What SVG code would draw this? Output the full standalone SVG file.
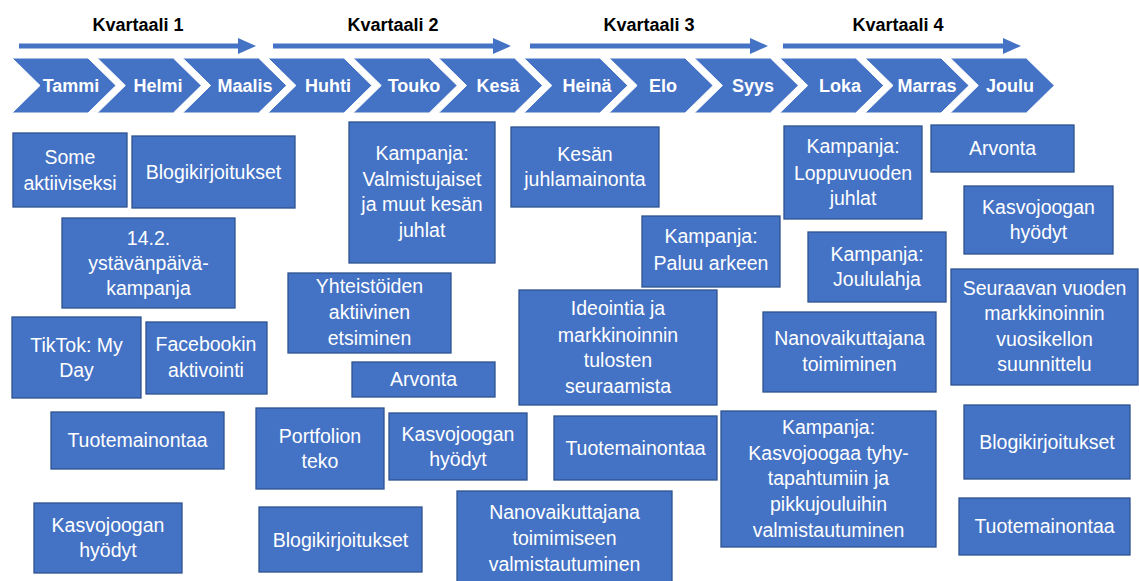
<svg xmlns="http://www.w3.org/2000/svg" width="1139" height="581" viewBox="0 0 1139 581">
<defs>
<style>
.q{font-family:"Liberation Sans",Arial,sans-serif;font-weight:bold;font-size:18px;fill:#000;text-anchor:middle}
.m{font-family:"Liberation Sans",Arial,sans-serif;font-weight:bold;font-size:18px;fill:#fff;text-anchor:middle}
.chev{fill:#4472C4;stroke:#fff;stroke-width:1}
.arrowline{stroke:#4472C4;stroke-width:5;fill:none}
.ahead{fill:#4472C4}
.box{fill:#4472C4;stroke:#2F528F;stroke-width:1.3}
.t{font-family:"Liberation Sans",Arial,sans-serif;font-size:19.5px;fill:#fff;text-anchor:middle}
</style>
<path id="chevron" d="M0,58 L76,58 L104,85.5 L76,113 L0,113 L28,85.5 Z"/>
</defs>
<rect width="1139" height="581" fill="#fff"/>

<g id="connectors">
<line class="arrowline" x1="19" y1="46" x2="239" y2="46"/>
<polygon class="ahead" points="238,38 256,46 238,54"/>
<line class="arrowline" x1="273" y1="46" x2="494" y2="46"/>
<polygon class="ahead" points="493,38 511,46 493,54"/>
<line class="arrowline" x1="530" y1="46" x2="751" y2="46"/>
<polygon class="ahead" points="750,38 768,46 750,54"/>
<line class="arrowline" x1="783" y1="46" x2="1004" y2="46"/>
<polygon class="ahead" points="1003,38 1021,46 1003,54"/>
</g>

<g id="quarters">
<text class="q" x="138" y="31">Kvartaali 1</text>
<text class="q" x="393" y="31">Kvartaali 2</text>
<text class="q" x="649" y="31">Kvartaali 3</text>
<text class="q" x="898" y="31">Kvartaali 4</text>
</g>

<g id="month-tammi"><use href="#chevron" class="chev" transform="translate(12,0)"/><text class="m" x="71" y="92">Tammi</text></g>
<g id="month-helmi"><use href="#chevron" class="chev" transform="translate(97.3,0)"/><text class="m" x="158" y="92">Helmi</text></g>
<g id="month-maalis"><use href="#chevron" class="chev" transform="translate(182.6,0)"/><text class="m" x="245" y="92">Maalis</text></g>
<g id="month-huhti"><use href="#chevron" class="chev" transform="translate(267.9,0)"/><text class="m" x="328" y="92">Huhti</text></g>
<g id="month-touko"><use href="#chevron" class="chev" transform="translate(353.2,0)"/><text class="m" x="414" y="92">Touko</text></g>
<g id="month-kesa"><use href="#chevron" class="chev" transform="translate(438.5,0)"/><text class="m" x="498" y="92">Kesä</text></g>
<g id="month-heina"><use href="#chevron" class="chev" transform="translate(523.8,0)"/><text class="m" x="587" y="92">Heinä</text></g>
<g id="month-elo"><use href="#chevron" class="chev" transform="translate(609.1,0)"/><text class="m" x="663" y="92">Elo</text></g>
<g id="month-syys"><use href="#chevron" class="chev" transform="translate(694.4,0)"/><text class="m" x="753" y="92">Syys</text></g>
<g id="month-loka"><use href="#chevron" class="chev" transform="translate(779.7,0)"/><text class="m" x="840" y="92">Loka</text></g>
<g id="month-marras"><use href="#chevron" class="chev" transform="translate(865,0)"/><text class="m" x="927" y="92">Marras</text></g>
<g id="month-joulu"><use href="#chevron" class="chev" transform="translate(950.3,0)"/><text class="m" x="1010" y="92">Joulu</text></g>

<g id="n1"><rect class="box" x="13" y="133" width="114" height="74"/><text class="t" x="70" y="164">Some</text><text class="t" x="70" y="190">aktiiviseksi</text></g>
<g id="n2"><rect class="box" x="132" y="136" width="163" height="72"/><text class="t" x="213.5" y="179">Blogikirjoitukset</text></g>
<g id="n3"><rect class="box" x="62" y="218" width="173" height="90"/><text class="t" x="148.5" y="245">14.2.</text><text class="t" x="148.5" y="270">ystävänpäivä-</text><text class="t" x="148.5" y="295">kampanja</text></g>
<g id="n4"><rect class="box" x="12" y="317" width="129" height="81"/><text class="t" x="76.5" y="352">TikTok: My</text><text class="t" x="76.5" y="377">Day</text></g>
<g id="n5"><rect class="box" x="146" y="322" width="121" height="72"/><text class="t" x="206" y="351">Facebookin</text><text class="t" x="206" y="377">aktivointi</text></g>
<g id="n6"><rect class="box" x="51" y="412" width="173" height="57"/><text class="t" x="137.5" y="447">Tuotemainontaa</text></g>
<g id="n7"><rect class="box" x="34" y="503" width="148" height="70"/><text class="t" x="108" y="532">Kasvojoogan</text><text class="t" x="108" y="557">hyödyt</text></g>

<g id="n8"><rect class="box" x="349" y="122" width="146" height="141"/><text class="t" x="422" y="160">Kampanja:</text><text class="t" x="422" y="186">Valmistujaiset</text><text class="t" x="422" y="211">ja muut kesän</text><text class="t" x="422" y="237">juhlat</text></g>
<g id="n9"><rect class="box" x="288" y="273" width="163" height="80"/><text class="t" x="369.5" y="293">Yhteistöiden</text><text class="t" x="369.5" y="319">aktiivinen</text><text class="t" x="369.5" y="345">etsiminen</text></g>
<g id="n10"><rect class="box" x="352" y="362" width="143" height="35"/><text class="t" x="423.5" y="386">Arvonta</text></g>
<g id="n11"><rect class="box" x="256" y="408" width="128" height="81"/><text class="t" x="320" y="443">Portfolion</text><text class="t" x="320" y="468">teko</text></g>
<g id="n12"><rect class="box" x="389" y="413" width="138" height="67"/><text class="t" x="458" y="441">Kasvojoogan</text><text class="t" x="458" y="466">hyödyt</text></g>
<g id="n13"><rect class="box" x="554" y="416" width="163" height="64"/><text class="t" x="635.5" y="455">Tuotemainontaa</text></g>
<g id="n14"><rect class="box" x="259" y="507" width="163" height="65"/><text class="t" x="340.5" y="547">Blogikirjoitukset</text></g>
<g id="n15"><rect class="box" x="457" y="491" width="215" height="94"/><text class="t" x="564.5" y="519">Nanovaikuttajana</text><text class="t" x="564.5" y="545">toimimiseen</text><text class="t" x="564.5" y="571">valmistautuminen</text></g>

<g id="n16"><rect class="box" x="511" y="127" width="148" height="80"/><text class="t" x="585" y="161">Kesän</text><text class="t" x="585" y="186">juhlamainonta</text></g>
<g id="n17"><rect class="box" x="642" y="216" width="138" height="71"/><text class="t" x="711" y="243">Kampanja:</text><text class="t" x="711" y="270">Paluu arkeen</text></g>
<g id="n18"><rect class="box" x="519" y="290" width="198" height="115"/><text class="t" x="618" y="315">Ideointia ja</text><text class="t" x="618" y="342">markkinoinnin</text><text class="t" x="618" y="367">tulosten</text><text class="t" x="618" y="393">seuraamista</text></g>

<g id="n19"><rect class="box" x="784" y="126" width="138" height="93"/><text class="t" x="853" y="153">Kampanja:</text><text class="t" x="853" y="180">Loppuvuoden</text><text class="t" x="853" y="205">juhlat</text></g>
<g id="n20"><rect class="box" x="808" y="232" width="138" height="70"/><text class="t" x="877" y="261">Kampanja:</text><text class="t" x="877" y="286">Joululahja</text></g>
<g id="n21"><rect class="box" x="763" y="312" width="173" height="80"/><text class="t" x="849.5" y="345">Nanovaikuttajana</text><text class="t" x="849.5" y="371">toimiminen</text></g>
<g id="n22"><rect class="box" x="721" y="411" width="215" height="136"/><text class="t" x="828.5" y="434">Kampanja:</text><text class="t" x="828.5" y="460">Kasvojoogaa tyhy-</text><text class="t" x="828.5" y="485">tapahtumiin ja</text><text class="t" x="828.5" y="511">pikkujouluihin</text><text class="t" x="828.5" y="537">valmistautuminen</text></g>

<g id="n23"><rect class="box" x="931" y="125" width="143" height="47"/><text class="t" x="1002.5" y="155">Arvonta</text></g>
<g id="n24"><rect class="box" x="964" y="186" width="149" height="68"/><text class="t" x="1038.5" y="214">Kasvojoogan</text><text class="t" x="1038.5" y="239">hyödyt</text></g>
<g id="n25"><rect class="box" x="951" y="269" width="187" height="116"/><text class="t" x="1044.5" y="295">Seuraavan vuoden</text><text class="t" x="1044.5" y="320">markkinoinnin</text><text class="t" x="1044.5" y="346">vuosikellon</text><text class="t" x="1044.5" y="371">suunnittelu</text></g>
<g id="n26"><rect class="box" x="964" y="405" width="166" height="74"/><text class="t" x="1047" y="449">Blogikirjoitukset</text></g>
<g id="n27"><rect class="box" x="959" y="498" width="171" height="57"/><text class="t" x="1044.5" y="533">Tuotemainontaa</text></g>
</svg>
